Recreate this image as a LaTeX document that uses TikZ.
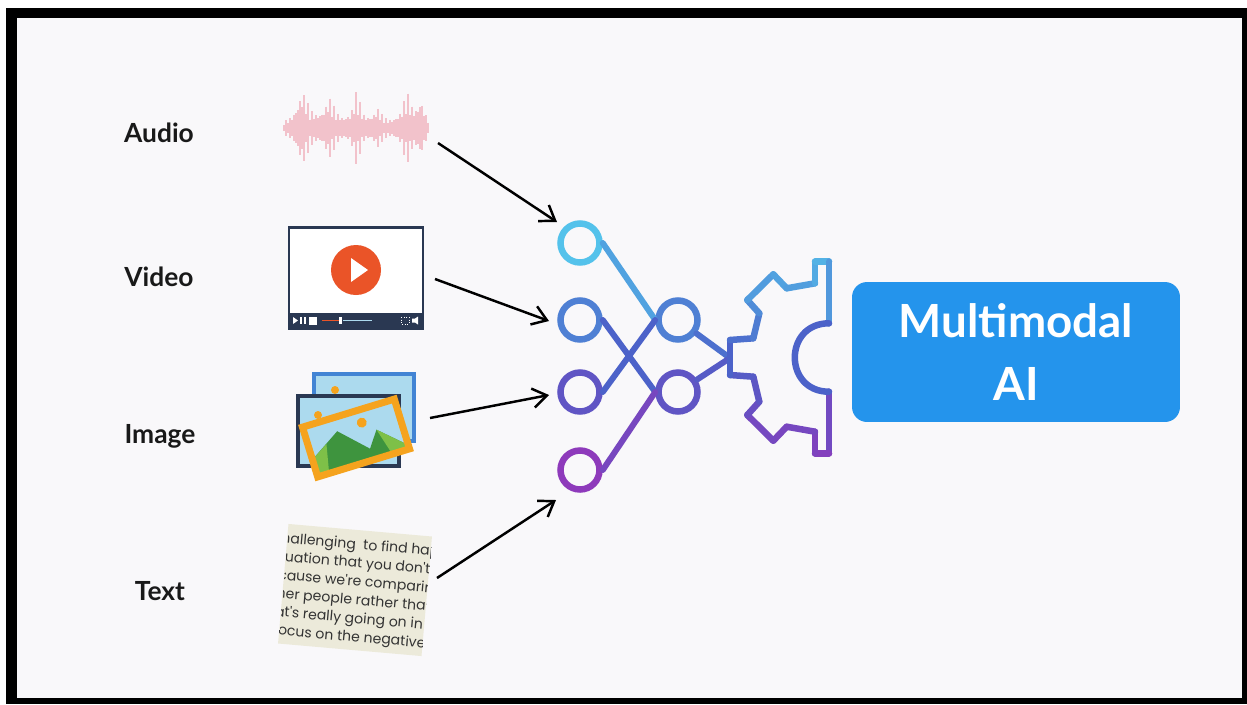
\documentclass[tikz,border=0pt]{standalone}
\usepackage{fontspec}
\setmainfont{Lato}
\newfontfamily\notefont{Poppins}
\usetikzlibrary{arrows.meta}

\definecolor{gtop}{RGB}{84,196,236}
\definecolor{gmid}{RGB}{76,96,200}
\definecolor{gbot}{RGB}{146,56,186}
\definecolor{aiblue}{RGB}{36,148,236}
\definecolor{navy}{RGB}{42,56,82}
\definecolor{playred}{RGB}{234,84,40}
\definecolor{frameorange}{RGB}{245,163,30}
\definecolor{skyblue}{RGB}{172,218,238}
\definecolor{backblue}{RGB}{66,132,212}
\definecolor{darkgreen}{RGB}{62,148,62}
\definecolor{lightgreen}{RGB}{126,192,72}
\definecolor{wavepink}{RGB}{238,150,166}
\definecolor{paper}{RGB}{236,234,218}
\definecolor{bg}{RGB}{249,248,250}

% colour of the network at height #1 (cyan -> indigo -> purple)
\newcommand\setnetcol[1]{%
  \pgfmathtruncatemacro\netpct{max(0,min(100,((#1)-240)/2.35))}%
  \ifnum\netpct<50\relax
    \pgfmathtruncatemacro\netmix{2*\netpct}%
    \colorlet{netcol}{gmid!\netmix!gtop}%
  \else
    \pgfmathtruncatemacro\netmix{2*\netpct-100}%
    \colorlet{netcol}{gbot!\netmix!gmid}%
  \fi}

\tikzset{
  lbl/.style={font=\fontsize{15}{18}\selectfont\bfseries, text=black!90},
  neuron/.style={circle, minimum size=0.78cm, line width=3.7pt, inner sep=0pt},
  link/.style={line width=3.4pt, line cap=round},
  gearline/.style={line width=3.7pt, line cap=round, line join=round},
  feed/.style={-{Straight Barb[length=8pt,width=11pt]}, line width=1.4pt},
  note/.style={font=\notefont\fontsize{8}{10}\selectfont, text=black!80,
    anchor=base west, inner sep=0pt, text height=5.5pt, text depth=1.5pt,
    transform shape},
  aibox/.style={rounded corners=0.3cm, fill=aiblue, text=white, align=center,
    minimum width=6.56cm, minimum height=2.8cm,
    font=\fontsize{26}{36}\selectfont\bfseries}
}

\begin{document}
\begin{tikzpicture}[x=0.02cm, y=-0.02cm]
\useasboundingbox (0,0) rectangle (1247,704);
\fill[white] (0,0) rectangle (1247,704);
\fill[black] (6,8) rectangle (1247,704);
\fill[bg] (17,18) rectangle (1242,698);

% labels
\node[lbl] (audio) at (159,133) {Audio};
\node[lbl] (video) at (159,277) {Video};
\node[lbl] (image) at (160,436) {Image};
\node[lbl] (text) at (160,591) {Text};

% sound wave
\foreach \i in {0,...,72} {
  \pgfmathsetmacro\wx{284+2*\i}
  \pgfmathsetmacro\wh{min(36,(3 + 30/(1+((\wx-303)/7)^2) + 24/(1+((\wx-330)/6)^2)
    + 32/(1+((\wx-357)/4)^2) + 14/(1+((\wx-378)/5)^2) + 30/(1+((\wx-407)/5)^2)
    + 20/(1+((\wx-421)/4)^2))*(0.35+0.65*abs(sin(\i*97.3))))}
  \draw[wavepink, line width=0.6pt, opacity=0.55] (\wx,128-\wh) -- (\wx,128+\wh);
}

% video player
\draw[navy, line width=1.7pt, fill=white] (289,227) rectangle (423,328);
\fill[navy] (289,313) rectangle (423,328);
\fill[playred] (356,270) circle (25);
\fill[white] (351,258) -- (351,282) -- (368,270) -- cycle;
\fill[white] (293,317) -- (293,324) -- (298,320.5) -- cycle;
\fill[white] (300,317) rectangle (302,324);
\fill[white] (304,317) rectangle (306,324);
\fill[white] (309,316.5) rectangle (317,324.5);
\draw[playred, line width=1pt] (322,320.5) -- (340,320.5);
\draw[skyblue, line width=1pt] (343,320.5) -- (372,320.5);
\fill[white] (339,317) rectangle (342,324);
\draw[white, line width=0.5pt, densely dotted] (401,317) rectangle (409,324);
\fill[white] (412,318.5) -- (415,318.5) -- (418,316.5) -- (418,324.5) -- (415,322.5) -- (412,322.5) -- cycle;

% picture stack
\draw[backblue, line width=2.8pt, fill=skyblue] (314,374) rectangle (414,441);
\fill[frameorange] (335,390) circle (4);
\draw[navy, line width=2.8pt, fill=skyblue] (298,396) rectangle (399,466);
\fill[frameorange] (318,415) circle (4);
\begin{scope}[shift={(356,438)}, rotate=17]
  \fill[skyblue] (-48,-26) rectangle (48,26);
  \fill[frameorange] (10,-13) circle (5);
  \fill[darkgreen] (-48,26) -- (-48,8) -- (-16,-12) -- (22,26) -- cycle;
  \fill[lightgreen] (-48,26) -- (-48,8) -- (-30,-3) -- (-36,26) -- cycle;
  \fill[darkgreen] (2,26) -- (22,-2) -- (48,22) -- (48,26) -- cycle;
  \fill[lightgreen] (22,-2) -- (30,26) -- (48,26) -- (48,22) -- cycle;
  \draw[frameorange, line width=4pt] (-48,-26) rectangle (48,26);
\end{scope}

% text clipping
\begin{scope}[shift={(355,590)}, rotate=-5]
  \fill[paper] (-72,-60) rectangle (72,60);
  \clip (-72,-60) rectangle (72,60);
  \foreach \ln/\ly [count=\k] in {hallenging\ \ to find happ/-41,
      tuation that you don't/-22.5, cause we're comparing/-4,
      her people rather than/14.5, at's really going on in/33,
      focus on the negative/51.5}
    \node[note] (line\k) at (-78,\ly) {\ln};
\end{scope}

% network
\setnetcol{243}\node[neuron, draw=netcol] (C1) at (580,243) {};
\setnetcol{320}\node[neuron, draw=netcol] (C2) at (580,320) {};
\setnetcol{392}\node[neuron, draw=netcol] (C3) at (580,392) {};
\setnetcol{470}\node[neuron, draw=netcol] (C4) at (580,470) {};
\setnetcol{320}\node[neuron, draw=netcol] (M1) at (678,320) {};
\setnetcol{392}\node[neuron, draw=netcol] (M2) at (678,392) {};
\coordinate (gear-tip) at (730,358);

\setnetcol{282}\draw[link, netcol] (C1.east) -- (M1.west);
\setnetcol{356}\draw[link, netcol] (C2.east) -- (M2.west);
\setnetcol{356}\draw[link, netcol] (C3.east) -- (M1.west);
\setnetcol{431}\draw[link, netcol] (C4.east) -- (M2.west);
\setnetcol{339}\draw[link, netcol] (M1) -- (gear-tip);
\setnetcol{375}\draw[link, netcol] (M2) -- (gear-tip);

% half gear
\foreach \gx/\gy [remember=\gx as \px (initially 829), remember=\gy as \py (initially 391.7)]
  in {829/453.3, 815/453.3, 815/431.7, 786.7/426.7, 773.3/440.7, 747.3/415,
      759.3/401.7, 753.3/376.7, 730/375, 730/340, 753.3/338.3, 759.3/313.3,
      747.3/300, 773.3/274.3, 786.7/288.3, 815/283.3, 815/261.7, 829/261.7,
      829/323.3} {
  \setnetcol{(\gy+\py)/2}
  \draw[gearline, netcol] (\px,\py) -- (\gx,\gy);
}
\setnetcol{357}
\draw[gearline, netcol] (829,323.3) .. controls (783.4,323.3) and (783.4,391.7) .. (829,391.7);

% inputs
\coordinate (audio-out) at (438,143);
\coordinate (audio-in) at (557,222);
\coordinate (video-out) at (435,279);
\coordinate (video-in) at (549,321);
\coordinate (image-out) at (430,418);
\coordinate (image-in) at (549,395);
\coordinate (text-out) at (437,578);
\coordinate (text-in) at (556,500);
\draw[feed] (audio-out) -- (audio-in);
\draw[feed] (video-out) -- (video-in);
\draw[feed] (image-out) -- (image-in);
\draw[feed] (text-out) -- (text-in);

\node[aibox] (ai) at (1016,352) {Multimodal\\AI};
\end{tikzpicture}
\end{document}
